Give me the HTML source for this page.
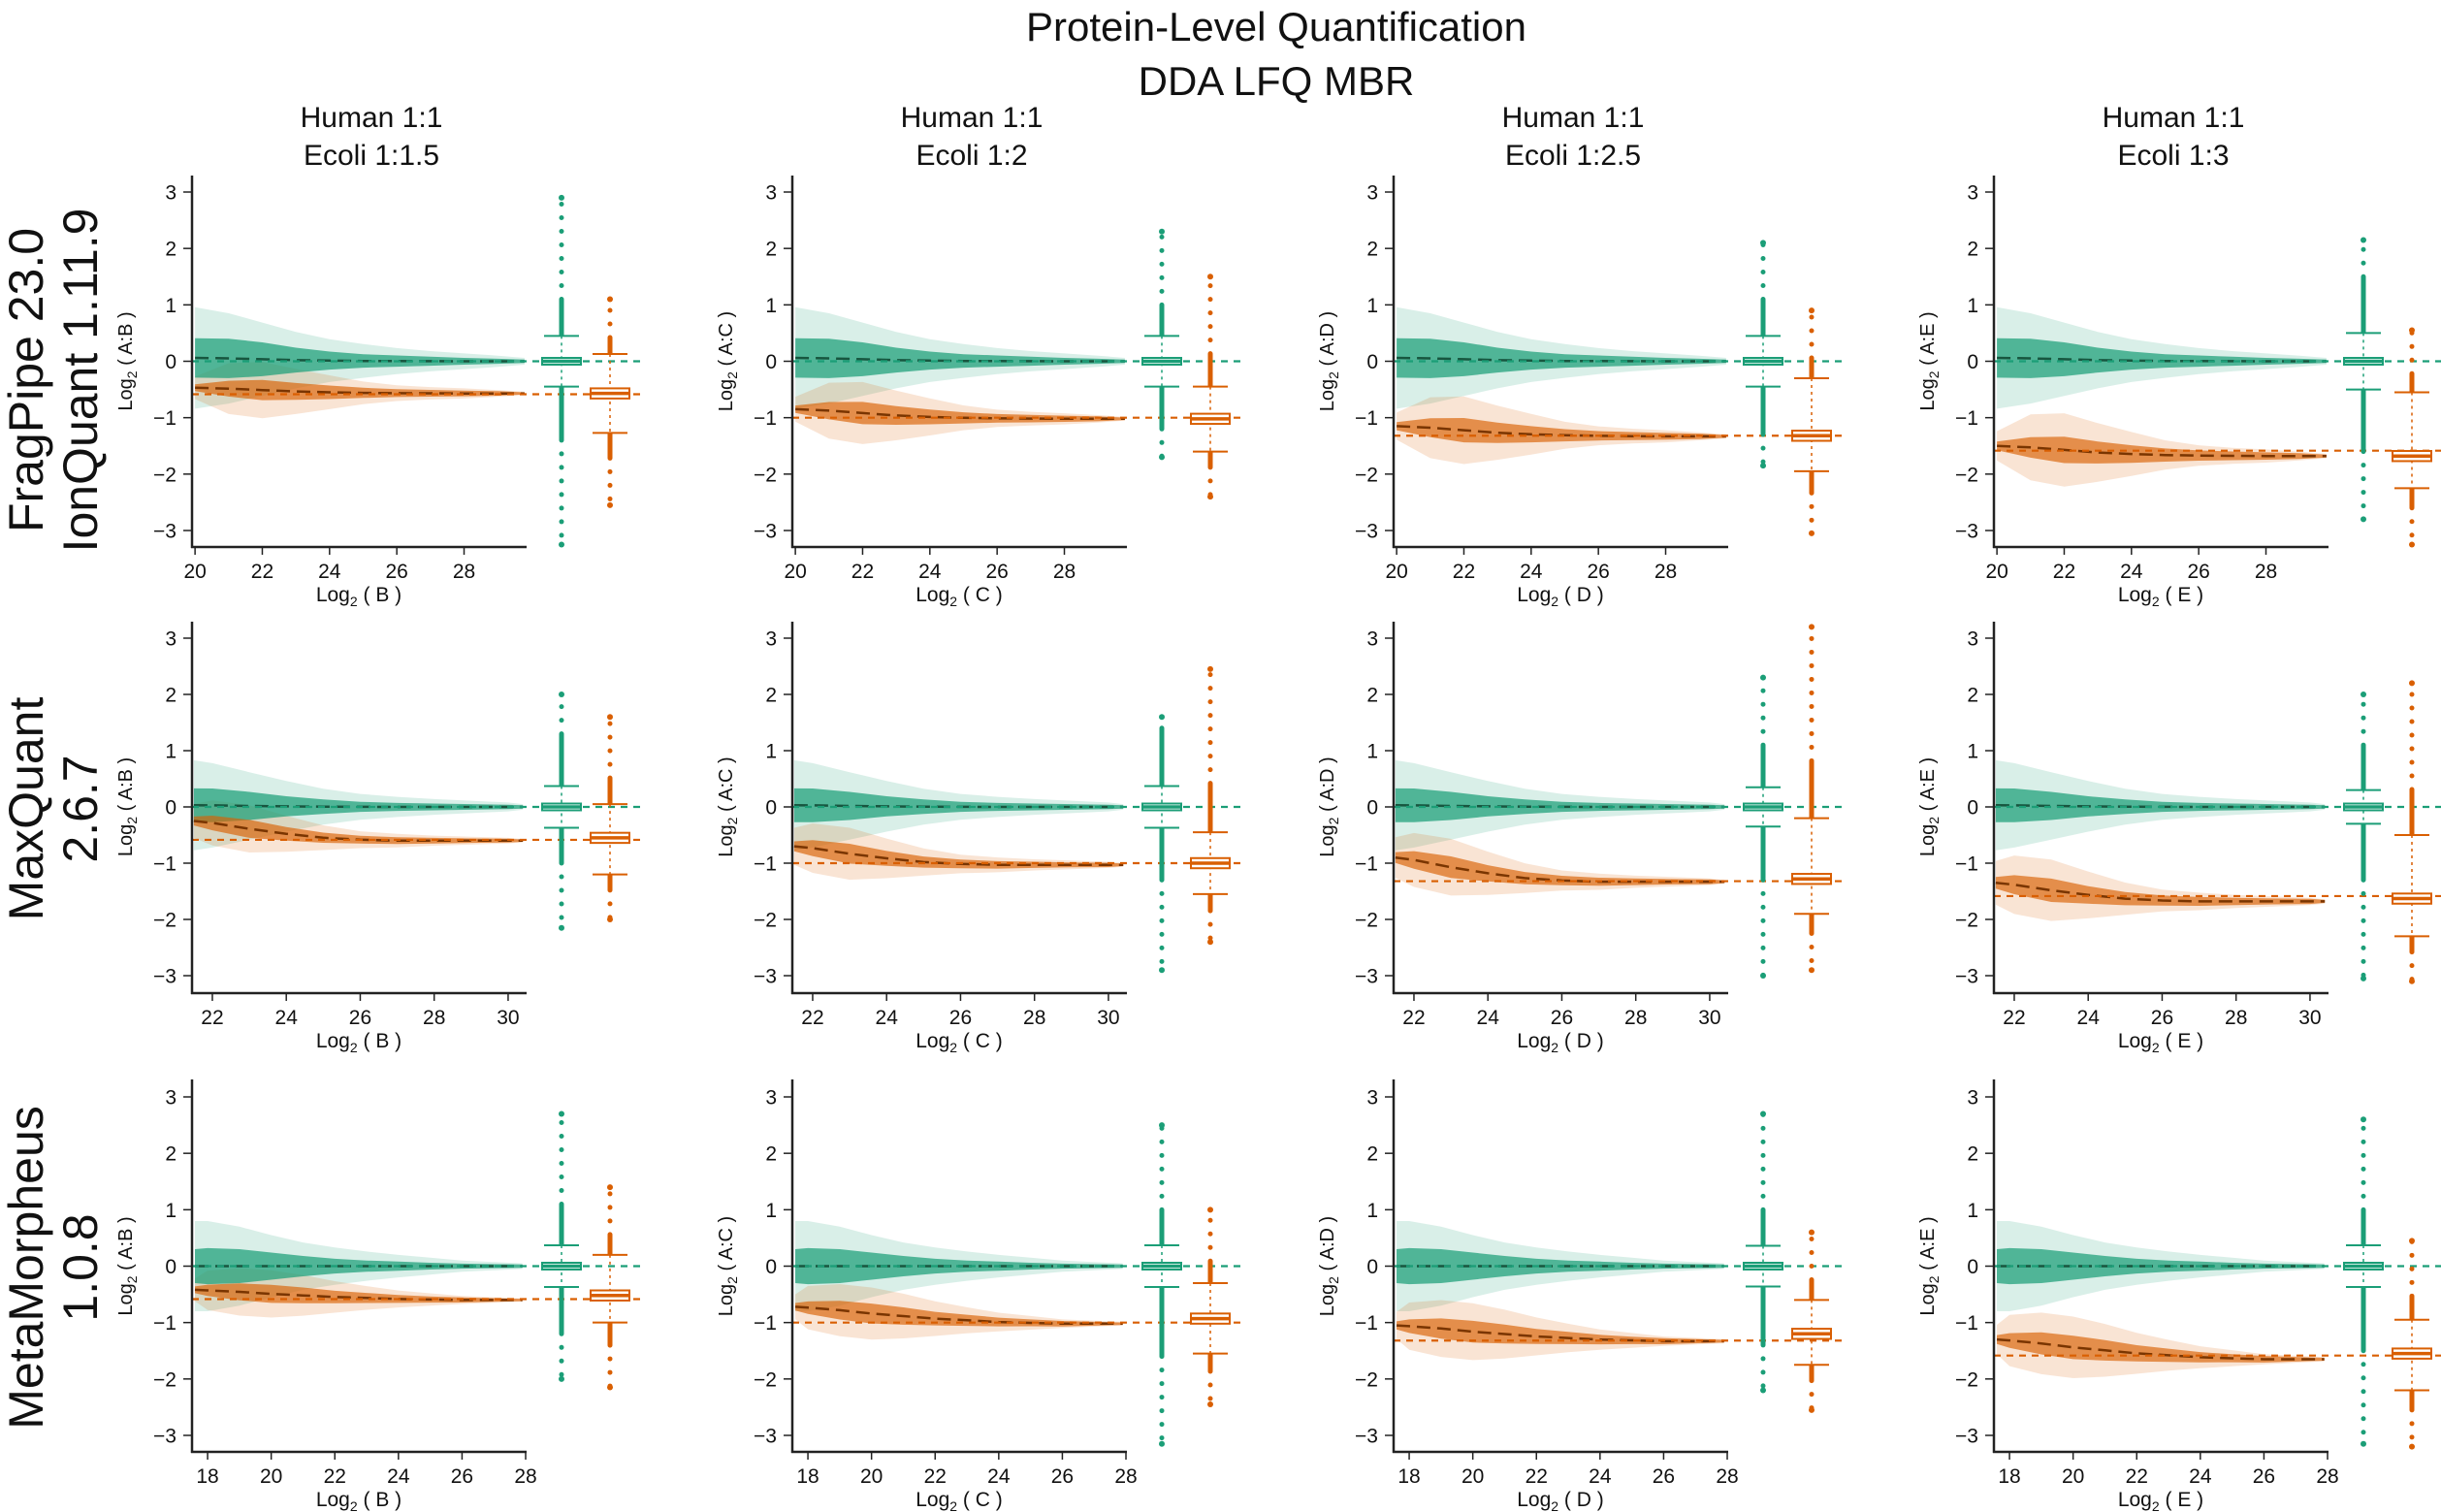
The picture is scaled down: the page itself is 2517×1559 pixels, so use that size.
<!DOCTYPE html>
<html><head><meta charset="utf-8"><title>Protein-Level Quantification</title>
<style>html,body{margin:0;padding:0;background:#fff}svg{display:block;font-family:"Liberation Sans",Arial,sans-serif}</style>
</head><body>
<svg id="chart" width="2517" height="1559" viewBox="0 0 2517 1559" xmlns="http://www.w3.org/2000/svg">
<text x="1316" y="42" font-size="42" text-anchor="middle" fill="#111">Protein-Level Quantification</text>
<text x="1316" y="98" font-size="42" text-anchor="middle" fill="#111">DDA LFQ MBR</text>
</svg>
<script>
// ---------- data ----------
const colHeaders = ['Ecoli 1:1.5','Ecoli 1:2','Ecoli 1:2.5','Ecoli 1:3'];
const sampleLetters = ['B','C','D','E'];
const rowTitles = [['FragPipe 23.0','IonQuant 1.11.9'],['MaxQuant','2.6.7'],['MetaMorpheus','1.0.8']];
const expectedEcoli = [-0.585,-1,-1.32,-1.585];
const rowXMin = [19.91,21.45,17.51];
const rowXMax = [29.86,30.5,28.03];
const xTicks = [[20,22,24,26,28],[22,24,26,28,30],[18,20,22,24,26,28]];
const yTicks = [-3,-2,-1,0,1,2,3];
const knotX = [
  [20,21,22,23,24,25,26,27,28,29,29.8],
  [21.5,22,23,24,25,26,27,28,29,30,30.4],
  [17.6,18,19,20,21,22,23,24,25,26,27.9]];
const humanOuter = [
  [0.9,0.8,0.65,0.5,0.38,0.3,0.23,0.18,0.14,0.1,0.06],
  [0.8,0.75,0.6,0.45,0.32,0.23,0.18,0.14,0.11,0.08,0.05],
  [0.8,0.8,0.7,0.55,0.42,0.33,0.26,0.2,0.15,0.1,0.05]];
const humanCore = [
  [0.35,0.35,0.3,0.22,0.16,0.12,0.1,0.08,0.06,0.045,0.03],
  [0.3,0.3,0.25,0.18,0.13,0.09,0.07,0.06,0.05,0.04,0.03],
  [0.3,0.32,0.3,0.24,0.18,0.13,0.1,0.08,0.06,0.045,0.03]];
const humanTrendStart = [0.06,0.03,0.0];
const ecoliOuter = [
  [0.2,0.45,0.5,0.4,0.3,0.2,0.14,0.11,0.09,0.06,0.03],
  [0.3,0.4,0.42,0.32,0.22,0.15,0.12,0.09,0.07,0.05,0.03],
  [0.2,0.35,0.42,0.42,0.36,0.28,0.21,0.15,0.11,0.07,0.03]];
const ecoliCore = [
  [0.06,0.14,0.18,0.15,0.12,0.09,0.07,0.06,0.05,0.04,0.02],
  [0.08,0.13,0.16,0.12,0.09,0.07,0.06,0.05,0.04,0.035,0.02],
  [0.06,0.1,0.15,0.16,0.14,0.11,0.09,0.07,0.055,0.045,0.02]];
const ecoliProfile = [
  [1,0.85,0.6,0.35,0.2,0.1,0.05,0.02,0,0,0],
  [1,0.9,0.6,0.35,0.15,0.05,0,0,0,0,0],
  [1,0.95,0.8,0.6,0.45,0.3,0.2,0.1,0.05,0,0]];
const ecoliStart = [[-0.47,-0.85,-1.15,-1.5],[-0.25,-0.7,-0.9,-1.35],[-0.42,-0.72,-1.05,-1.3]];
const ecoliEnd = [[-0.57,-1.02,-1.33,-1.68],[-0.6,-1.03,-1.33,-1.68],[-0.6,-1.02,-1.33,-1.65]];
const colSpread = [1,1.1,1.2,1.3];
const greenWhisker = [[0.45,0.45,0.45,0.5],[0.37,0.37,0.35,0.3],[0.37,0.37,0.36,0.37]];
const greenDenseHi = [[1.1,1.0,1.1,1.5],[1.3,1.4,1.1,1.1],[1.1,1.0,1.0,1.0]];
const greenDenseLo = [[-1.4,-1.2,-1.3,-1.6],[-1.0,-1.3,-1.3,-1.3],[-1.2,-1.6,-1.4,-1.5]];
const greenMax = [[2.9,2.3,2.1,2.15],[2.0,1.6,2.3,2.0],[2.7,2.5,2.7,2.6]];
const greenMin = [[-3.25,-1.7,-1.85,-2.8],[-2.15,-2.9,-3.0,-3.05],[-2.0,-3.15,-2.2,-3.15]];
const orangeMedian = [[-0.57,-1.02,-1.32,-1.68],[-0.55,-1.0,-1.28,-1.63],[-0.52,-0.93,-1.2,-1.55]];
const orangeWhiskerHi = [[0.13,-0.45,-0.3,-0.55],[0.05,-0.45,-0.2,-0.5],[0.2,-0.3,-0.6,-0.95]];
const orangeWhiskerLo = [[-1.27,-1.6,-1.95,-2.25],[-1.2,-1.55,-1.9,-2.3],[-1.0,-1.55,-1.75,-2.2]];
const orangeMax = [[1.1,1.5,0.9,0.55],[1.6,2.45,3.2,2.2],[1.4,1.0,0.6,0.45]];
const orangeMin = [[-2.55,-2.4,-3.05,-3.25],[-2.0,-2.4,-2.9,-3.1],[-2.15,-2.45,-2.55,-3.2]];

// ---------- layout ----------
const colX0 = [198,817,1437,2056];
const rowTop = [181,641,1113];
const rowY3 = [198,658,1131];
const rowYm3 = [547,1006,1480];
const rowAxis = [564,1024,1497];
const PW = 345;
const GREEN = '#1b9e77', ORANGE = '#d95f02';
const svg = document.getElementById('chart');
const NS = 'http://www.w3.org/2000/svg';
function mk(tag, attrs, parent) {
  const e = document.createElementNS(NS, tag);
  for (const k in attrs) e.setAttribute(k, attrs[k]);
  (parent || svg).appendChild(e);
  return e;
}
function logText(parent, x, y, inner, attrs) {
  const t = mk('text', Object.assign({x: x, y: y, 'font-size': 21, 'text-anchor': 'middle', fill: '#111'}, attrs || {}), parent);
  const a = mk('tspan', {}, t); a.textContent = 'Log';
  const b = mk('tspan', {dy: 5, 'font-size': 14}, t); b.textContent = '2';
  const c = mk('tspan', {dy: -5}, t); c.textContent = ' ( ' + inner + ' )';
  return t;
}

for (let r = 0; r < 3; r++) {
  const rt = mk('text', {x: 0, y: 0, 'font-size': 50, 'text-anchor': 'middle', fill: '#111',
    transform: 'translate(50,' + (r === 0 ? 392 : (rowAxis[r] - 190)) + ') rotate(-90)'});
  
  
  const t1 = mk('tspan', {x: 0, dy: -6}, rt); t1.textContent = rowTitles[r][0];
  const t2 = mk('tspan', {x: 0, dy: 56}, rt); t2.textContent = rowTitles[r][1];

  for (let c = 0; c < 4; c++) {
    const x0 = colX0[c];
    const sx = v => x0 + (v - rowXMin[r]) / (rowXMax[r] - rowXMin[r]) * PW;
    const sy = v => rowY3[r] + (3 - v) / 6 * (rowYm3[r] - rowY3[r]);
    const g = mk('g', {});
    
    

    if (r === 0) {
      const h1 = mk('text', {x: x0 + 185, y: 131, 'font-size': 30, 'text-anchor': 'middle', fill: '#111'}, g);
      
      
      h1.textContent = 'Human 1:1';
      const h2 = mk('text', {x: x0 + 185, y: 170, 'font-size': 30, 'text-anchor': 'middle', fill: '#111'}, g);
      
      
      h2.textContent = colHeaders[c];
    }

    const kx = knotX[r];
    const clip = v => Math.max(rowXMin[r], Math.min(rowXMax[r], v));
    function band(center, half, fill, op, name) {
      let up = [], lo = [];
      for (let i = 0; i < kx.length; i++) {
        const X = sx(clip(kx[i]));
        up.push(X.toFixed(1) + ',' + sy(center[i] + half[i]).toFixed(1));
        lo.unshift(X.toFixed(1) + ',' + sy(center[i] - half[i]).toFixed(1));
      }
      const p = mk('polygon', {points: up.concat(lo).join(' '), fill: fill, 'fill-opacity': op}, g);
      
      
    }
    const hC = kx.map((_, i) => humanTrendStart[r] * ecoliProfile[r][i]);
    const eC = kx.map((_, i) => ecoliEnd[r][c] + (ecoliStart[r][c] - ecoliEnd[r][c]) * ecoliProfile[r][i]);
    const eO = ecoliOuter[r].map(v => v * colSpread[c]);
    const eK = ecoliCore[r].map(v => v * colSpread[c]);
    band(hC, humanOuter[r], GREEN, 0.17, 'human-scatter-outer');
    band(eC, eO, ORANGE, 0.17, 'ecoli-scatter-outer');
    band(hC, humanCore[r], GREEN, 0.72, 'human-scatter-core');
    band(eC, eK, ORANGE, 0.65, 'ecoli-scatter-core');

    function trend(vals, color, name) {
      const pts = kx.map((x, i) => sx(clip(x)).toFixed(1) + ',' + sy(vals[i]).toFixed(1)).join(' ');
      const l = mk('polyline', {points: pts, fill: 'none', stroke: color, 'stroke-width': 2.5, 'stroke-dasharray': '14 7'}, g);
      
      
    }
    trend(hC, '#17563f', 'human-trend-line');
    trend(eC, '#7a3500', 'ecoli-trend-line');

    const ref1 = mk('line', {x1: x0, x2: x0 + 462, y1: sy(0), y2: sy(0), stroke: GREEN, 'stroke-width': 2.2, 'stroke-dasharray': '7 6'}, g);
    
    
    const ref2 = mk('line', {x1: x0, x2: x0 + 462, y1: sy(expectedEcoli[c]), y2: sy(expectedEcoli[c]), stroke: ORANGE, 'stroke-width': 2.2, 'stroke-dasharray': '7 6'}, g);
    
    

    function box(cx, med, qh, wHi, wLo, dHi, dLo, mx, mn, color, name) {
      const bg = mk('g', {}, g);
      
      
      mk('line', {x1: cx, x2: cx, y1: sy(wHi), y2: sy(wLo), stroke: color, 'stroke-width': 1.5, 'stroke-dasharray': '3 4'}, bg);
      mk('line', {x1: cx, x2: cx, y1: sy(wHi), y2: sy(dHi), stroke: color, 'stroke-width': 5}, bg);
      mk('line', {x1: cx, x2: cx, y1: sy(wLo), y2: sy(dLo), stroke: color, 'stroke-width': 5}, bg);
      mk('line', {x1: cx, x2: cx, y1: sy(dHi), y2: sy(mx), stroke: color, 'stroke-width': 5, 'stroke-linecap': 'round', 'stroke-dasharray': '0 14'}, bg);
      mk('line', {x1: cx, x2: cx, y1: sy(dLo), y2: sy(mn), stroke: color, 'stroke-width': 5, 'stroke-linecap': 'round', 'stroke-dasharray': '0 14'}, bg);
      mk('circle', {cx: cx, cy: sy(mx), r: 3, fill: color}, bg);
      mk('circle', {cx: cx, cy: sy(mn), r: 3, fill: color}, bg);
      mk('line', {x1: cx - 18, x2: cx + 18, y1: sy(wHi), y2: sy(wHi), stroke: color, 'stroke-width': 2}, bg);
      mk('line', {x1: cx - 18, x2: cx + 18, y1: sy(wLo), y2: sy(wLo), stroke: color, 'stroke-width': 2}, bg);
      mk('rect', {x: cx - 20, y: sy(med + qh), width: 40, height: sy(med - qh) - sy(med + qh), fill: '#fff', stroke: color, 'stroke-width': 2}, bg);
      mk('line', {x1: cx - 20, x2: cx + 20, y1: sy(med), y2: sy(med), stroke: color, 'stroke-width': 3.5}, bg);
    }
    const gw = greenWhisker[r][c];
    box(x0 + 381, 0, 0.06, gw, -gw, greenDenseHi[r][c], greenDenseLo[r][c], greenMax[r][c], greenMin[r][c], GREEN, 'human-boxplot');
    const om = orangeMedian[r][c];
    const oHi = orangeWhiskerHi[r][c], oLo = orangeWhiskerLo[r][c];
    box(x0 + 431, om, 0.09, oHi, oLo, oHi + (orangeMax[r][c] - oHi) * 0.3, oLo + (orangeMin[r][c] - oLo) * 0.35, orangeMax[r][c], orangeMin[r][c], ORANGE, 'ecoli-boxplot');

    const ya = mk('line', {x1: x0, x2: x0, y1: rowTop[r], y2: rowAxis[r] + 1, stroke: '#222', 'stroke-width': 2.5}, g);
    
    
    const xa = mk('line', {x1: x0 - 1, x2: x0 + PW, y1: rowAxis[r], y2: rowAxis[r], stroke: '#222', 'stroke-width': 2.5}, g);
    
    
    yTicks.forEach(v => {
      mk('line', {x1: x0 - 9, x2: x0, y1: sy(v), y2: sy(v), stroke: '#222', 'stroke-width': 1.5}, g);
      const t = mk('text', {x: x0 - 16, y: sy(v) + 7.5, 'font-size': 21, 'text-anchor': 'end', fill: '#111'}, g);
      
      
      t.textContent = v < 0 ? '\u2212' + Math.abs(v) : String(v);
    });
    xTicks[r].forEach(v => {
      mk('line', {x1: sx(v), x2: sx(v), y1: rowAxis[r], y2: rowAxis[r] + 8, stroke: '#222', 'stroke-width': 1.5}, g);
      const t = mk('text', {x: sx(v), y: rowAxis[r] + 32, 'font-size': 21, 'text-anchor': 'middle', fill: '#111'}, g);
      
      
      t.textContent = String(v);
    });
    const xt = logText(g, x0 + 172, rowAxis[r] + 56, sampleLetters[c]);
    
    
    const yt = logText(g, 0, 0, 'A:' + sampleLetters[c], {transform: 'translate(' + (x0 - 62) + ',' + sy(0) + ') rotate(-90)', 'font-size': 20});
    
    
  }
}
</script>
</body></html>
